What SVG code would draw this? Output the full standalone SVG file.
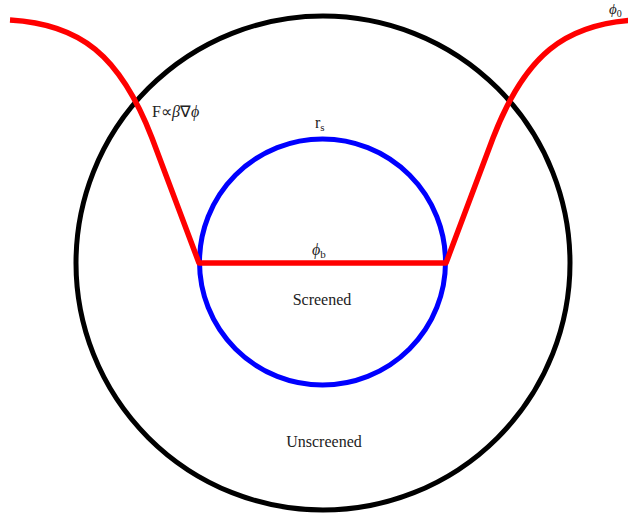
<svg xmlns="http://www.w3.org/2000/svg" width="628" height="518" viewBox="0 0 628 518">
<style>
.t{font-family:"Liberation Serif","Times New Roman",serif;fill:#222;}
.i{font-style:italic;}
</style>
<rect width="628" height="518" fill="#fff"/>
<g id="outer"><circle cx="323" cy="263" r="247" fill="none" stroke="#000" stroke-width="5"/></g>
<g id="inner"><circle cx="322.5" cy="262" r="123" fill="none" stroke="#0000ff" stroke-width="5"/></g>
<g id="connectors">
<path d="M10,20 C80,24 120,55 152,138 L199,263 L446,263 L493,138 C525,55 565,24 635,20" fill="none" stroke="#ff0000" stroke-width="5.5" stroke-linejoin="round"/>
</g>
<g id="labels">
<text class="t" x="152" y="117" font-size="16">F∝<tspan class="i">β</tspan>∇<tspan class="i">ϕ</tspan></text>
<text class="t" x="315" y="128" font-size="16">r<tspan font-size="11" dy="3">s</tspan></text>
<text class="t i" x="312" y="255" font-size="16">ϕ<tspan font-size="11" dy="3" font-style="normal">b</tspan></text>
<text class="t i" x="609" y="14" font-size="15">ϕ<tspan font-size="10" dy="3" font-style="normal">0</tspan></text>
<text class="t" x="322" y="305" font-size="16" text-anchor="middle">Screened</text>
<text class="t" x="324" y="447" font-size="16" text-anchor="middle">Unscreened</text>
</g>
</svg>
